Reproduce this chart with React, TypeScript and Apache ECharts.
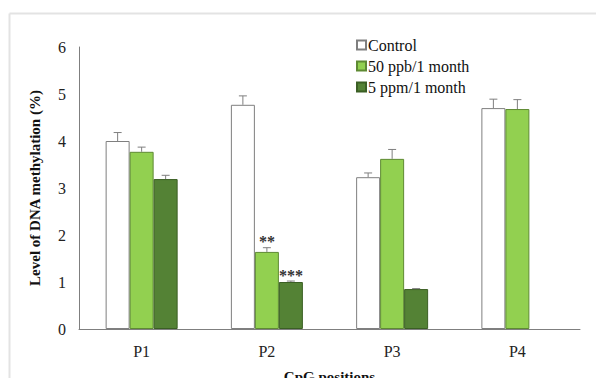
import React, { useEffect, useRef } from "react";
import * as echarts from "echarts";

const categories = ["P1", "P2", "P3", "P4"];
const seriesNames = ["Control", "50 ppb/1 month", "5 ppm/1 month"];
const controlValues = [4.0, 4.77, 3.23, 4.7];
const ppbValues = [3.77, 1.64, 3.62, 4.68];
const ppmValues: (number | null)[] = [3.19, 1.0, 0.85, null];
const controlErr = [0.18, 0.19, 0.09, 0.19];
const ppbErr = [0.1, 0.09, 0.2, 0.2];
const ppmErr: (number | null)[] = [0.08, 0.02, 0.01, null];
const ppbMarks = ["", "**", "", ""];
const ppmMarks = ["", "***", "", ""];
const yTicks = [0, 1, 2, 3, 4, 5, 6];

const SERIF = "Liberation Serif";
const BAR_W = 24;

export default function App() {
  const ref = useRef<HTMLDivElement>(null);
  useEffect(() => {
    if (!ref.current) return;
    const chart = echarts.init(ref.current, undefined, { renderer: "svg", width: 596, height: 378 });
    const fills = ["#ffffff", "#92d050", "#548235"];
    const borders = ["#7f7f7f", "#5e8a33", "#3b5f24"];
    const allVals = [controlValues, ppbValues, ppmValues];
    const allErr = [controlErr, ppbErr, ppmErr];
    const allMarks = [null, ppbMarks, ppmMarks];

    const barSeries = allVals.map((vals, si) => ({
      name: seriesNames[si],
      type: "bar",
      barWidth: BAR_W,
      barGap: "0%",
      itemStyle: { color: fills[si], borderColor: borders[si], borderWidth: 1 },
      data: vals.map((v) => ({ value: v })),
      z: 2,
    }));

    const errSeries = allVals.map((vals, si) => ({
      type: "custom",
      name: "err" + si,
      z: 5,
      silent: true,
      data: vals.map((v, i) => [i, v, allErr[si][i]]),
      renderItem: (params: any, api: any) => {
        const v = api.value(1);
        const e = api.value(2);
        if (v == null || isNaN(v)) return null;
        const ci = api.value(0);
        const base = api.coord([ci, v]);
        const top = api.coord([ci, v + (isNaN(e) ? 0 : e)]);
        const x = base[0] + (si - 1) * BAR_W;
        const children: any[] = [];
        if (!isNaN(e) && e > 0) {
          children.push({
            type: "line",
            shape: { x1: x, y1: base[1], x2: x, y2: top[1] },
            style: { stroke: "#7f7f7f", lineWidth: 1 },
          });
          children.push({
            type: "line",
            shape: { x1: x - 4, y1: top[1], x2: x + 4, y2: top[1] },
            style: { stroke: "#7f7f7f", lineWidth: 1 },
          });
        }
        const mark = allMarks[si] ? (allMarks[si] as string[])[ci] : "";
        if (mark) {
          children.push({
            type: "text",
            style: {
              text: mark,
              x: x,
              y: top[1] + 2,
              align: "center",
              verticalAlign: "bottom",
              fontFamily: SERIF,
              fontSize: 16,
              fontWeight: "bold",
              fill: "#333",
            },
          });
        }
        return { type: "group", children };
      },
    }));

    chart.setOption({
      animation: false,
      backgroundColor: "#ffffff",
      textStyle: { fontFamily: SERIF },
      graphic: [
        { type: "line", shape: { x1: 9.5, y1: 13.5, x2: 596, y2: 13.5 }, style: { stroke: "#e3e3e3", lineWidth: 2 } },
        { type: "line", shape: { x1: 9.5, y1: 13.5, x2: 9.5, y2: 378 }, style: { stroke: "#e3e3e3", lineWidth: 2 } },
      ],
      legend: {
        data: seriesNames,
        orient: "vertical",
        left: 351,
        top: 32,
        itemWidth: 9,
        itemHeight: 9,
        itemGap: 5,
        icon: "rect",
        textStyle: { fontFamily: SERIF, fontSize: 16, color: "#111", padding: [0, 0, 0, -3] },
      },
      grid: { left: 79, right: 16, top: 47, bottom: 49, outerBoundsMode: "none", containLabel: false },
      xAxis: {
        type: "category",
        data: categories,
        name: "CpG positions",
        nameLocation: "middle",
        nameGap: 40,
        nameTextStyle: { fontFamily: SERIF, fontSize: 15, fontWeight: "bold", color: "#111" },
        axisLine: { lineStyle: { color: "#7f7f7f" } },
        axisTick: { show: false },
        axisLabel: { fontFamily: SERIF, fontSize: 16, color: "#222", margin: 14 },
      },
      yAxis: {
        type: "value",
        min: 0,
        max: 6,
        interval: 1,
        name: "Level of DNA methylation (%)",
        nameLocation: "middle",
        nameGap: 37,
        nameTextStyle: { fontFamily: SERIF, fontSize: 15, fontWeight: "bold", color: "#111" },
        axisLine: { show: true, lineStyle: { color: "#7f7f7f" } },
        axisTick: { show: false },
        splitLine: { show: false },
        axisLabel: {
          fontFamily: SERIF,
          fontSize: 16,
          color: "#222",
          margin: 13,
          formatter: (v: number) => (yTicks.includes(v) ? String(v) : ""),
        },
      },
      series: [...barSeries, ...errSeries],
    });
    return () => chart.dispose();
  }, []);
  return <div ref={ref} style={{ position: "fixed", left: 0, top: 0, width: 596, height: 378 }} />;
}
